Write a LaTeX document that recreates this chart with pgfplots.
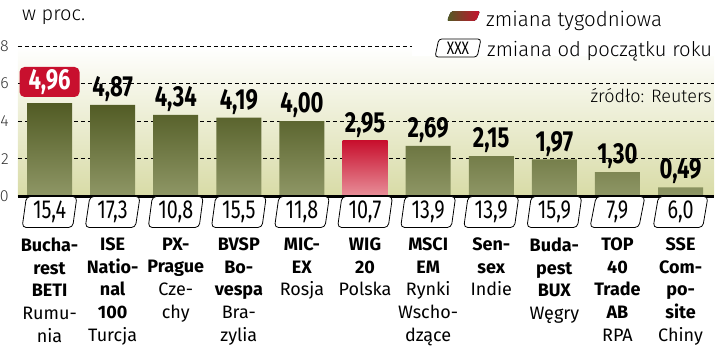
\documentclass[border=0pt]{standalone}
\usepackage{fontspec}
\setmainfont{Fira Sans}
\newfontfamily\light{Fira Sans Light}
\newfontfamily\cond[FakeStretch=0.76]{Fira Sans}
\usepackage{pgfplots}
\pgfplotsset{compat=1.18}
\usetikzlibrary{shapes.geometric}
\definecolor{gtop}{HTML}{515B24}
\definecolor{gbot}{HTML}{8F9766}
\definecolor{rtop}{HTML}{C8102E}
\definecolor{rbot}{HTML}{E8909A}
\definecolor{bgk}{HTML}{D8DBA6}
\definecolor{lab}{HTML}{C8102E}
\begin{document}
\begin{tikzpicture}
\begin{axis}[
  scale only axis, width=696bp, height=150.5bp,
  xmin=-0.5, xmax=10.53, ymin=0, ymax=8,
  clip=false,
  axis line style={draw=none},
  major tick length=0pt,
  ytick={0,2,4,6,8},
  ymajorgrids,
  grid style={black, line width=0.9bp, dash pattern=on 4bp off 3bp},
  /pgf/number format/assume math mode=true,
  yticklabel style={anchor=east, inner sep=0pt, xshift=-9bp, font=\light\fontsize{16bp}{16bp}\selectfont, text=black!80},
  xtick={0,...,10},
  xticklabels={
    {\textbf{Bucha-}\\\textbf{rest}\\\textbf{BETI}\\Rumu-\\nia},
    {\textbf{ISE}\\\textbf{Natio-}\\\textbf{nal}\\\textbf{100}\\Turcja},
    {\textbf{PX-}\\\textbf{Prague}\\Cze-\\chy},
    {\textbf{BVSP}\\\textbf{Bo-}\\\textbf{vespa}\\Bra-\\zylia},
    {\textbf{MIC-}\\\textbf{EX}\\Rosja},
    {\textbf{WIG}\\\textbf{20}\\Polska},
    {\textbf{MSCI}\\\textbf{EM}\\Rynki\\Wscho-\\dzące},
    {\textbf{Sen-}\\\textbf{sex}\\Indie},
    {\textbf{Buda-}\\\textbf{pest}\\\textbf{BUX}\\Węgry},
    {\textbf{TOP}\\\textbf{40}\\\textbf{Trade}\\\textbf{AB}\\RPA},
    {\textbf{SSE}\\\textbf{Com-}\\\textbf{po-}\\\textbf{site}\\Chiny}
  },
  xticklabel style={align=center, anchor=north, inner sep=0pt, yshift=-41bp, font=\fontsize{18bp}{22.7bp}\selectfont},
  axis background/.style={top color=white, bottom color=bgk},
]
% green bars
\addplot[ybar, bar width=45bp, bar shift=0pt, draw=none, top color=gtop, bottom color=gbot]
  coordinates {(0,4.96) (1,4.87) (2,4.34) (3,4.19) (4,4.00) (6,2.69) (7,2.15) (8,1.97) (9,1.30) (10,0.49)};
% red bar
\addplot[ybar, bar width=45bp, bar shift=0pt, draw=none, top color=rtop, bottom color=rbot]
  coordinates {(5,2.95)};
% value labels
\addplot[draw=none, mark=none, nodes near coords={\pgfmathprintnumber[fixed,fixed zerofill,precision=2,use comma,assume math mode=true]{\pgfplotspointmeta}},
  every node near coord/.append style={text=black, inner sep=0pt, yshift=3bp, font=\cond\bfseries\fontsize{29bp}{29bp}\selectfont}]
  coordinates {(1,4.87) (2,4.34) (3,4.19) (4,4.00) (5,2.95) (6,2.69) (7,2.15) (8,1.97) (9,1.30) (10,0.49)};
\addplot[draw=none, mark=none, nodes near coords={\pgfmathprintnumber[fixed,fixed zerofill,precision=2,use comma,assume math mode=true]{\pgfplotspointmeta}},
  every node near coord/.append style={text=white, fill=lab, rounded corners=5bp, minimum width=60bp, minimum height=30bp, inner sep=0pt, yshift=6bp, font=\cond\bfseries\fontsize{29bp}{29bp}\selectfont}]
  coordinates {(0,4.96)};
% year-to-date boxes
\addplot[draw=none, mark=none, nodes near coords, point meta=explicit symbolic, nodes near coords align={center},
  every node near coord/.append style={text=black, draw=black, fill=white, line width=0.8bp, shape=trapezium, trapezium left angle=82, trapezium right angle=98, trapezium stretches=true, rounded corners=4bp, minimum width=55bp, minimum height=31bp, inner sep=0pt, font=\cond\fontsize{26bp}{26bp}\selectfont}]
  table[meta=lab] {
x y lab
0 -0.824 15,4
1 -0.824 17,3
2 -0.824 10,8
3 -0.824 15,5
4 -0.824 11,8
5 -0.824 10,7
6 -0.824 13,9
7 -0.824 13,9
8 -0.824 15,9
9 -0.824 7,9
10 -0.824 6,0
};
\draw[line width=3bp] (axis cs:-0.5,0) -- (axis cs:10.53,0);
% legend area
\fill[white] (axis cs:5.74,7.45) rectangle (axis cs:10.53,8.3);
\fill[left color=gtop, right color=rtop, rounded corners=2bp] (axis cs:6.299,9.329) -- (axis cs:6.362,9.860) -- (axis cs:6.822,9.860) -- (axis cs:6.759,9.329) -- cycle;
\node[anchor=base west, inner sep=0pt, font=\light\fontsize{20.5bp}{20.5bp}\selectfont] at (axis cs:6.917,9.01) {zmiana tygodniowa};
\node[draw=black, line width=0.8bp, shape=trapezium, trapezium left angle=80, trapezium right angle=100, trapezium stretches=true, rounded corners=3bp, minimum width=46bp, minimum height=18bp, inner sep=0pt, font=\cond\fontsize{18bp}{18bp}\selectfont] at (axis cs:6.473,7.894) {XXX};
\node[anchor=base west, inner sep=0pt, font=\light\fontsize{20.2bp}{20.2bp}\selectfont] at (axis cs:6.933,7.415) {zmiana od początku roku};
\node[anchor=base east, inner sep=0pt, font=\light\fontsize{18bp}{18bp}\selectfont] at (axis cs:10.498,5.0) {źródło: Reuters};
\node[anchor=base west, inner sep=0pt, font=\light\fontsize{20bp}{20bp}\selectfont] at (axis cs:-0.437,9.38) {w proc.};
\coordinate (BL) at (axis cs:-0.785,-7.947);
\coordinate (TR) at (axis cs:10.625,10.445);
\end{axis}
\pgfresetboundingbox
\useasboundingbox (BL) rectangle (TR);
\end{tikzpicture}
\end{document}
